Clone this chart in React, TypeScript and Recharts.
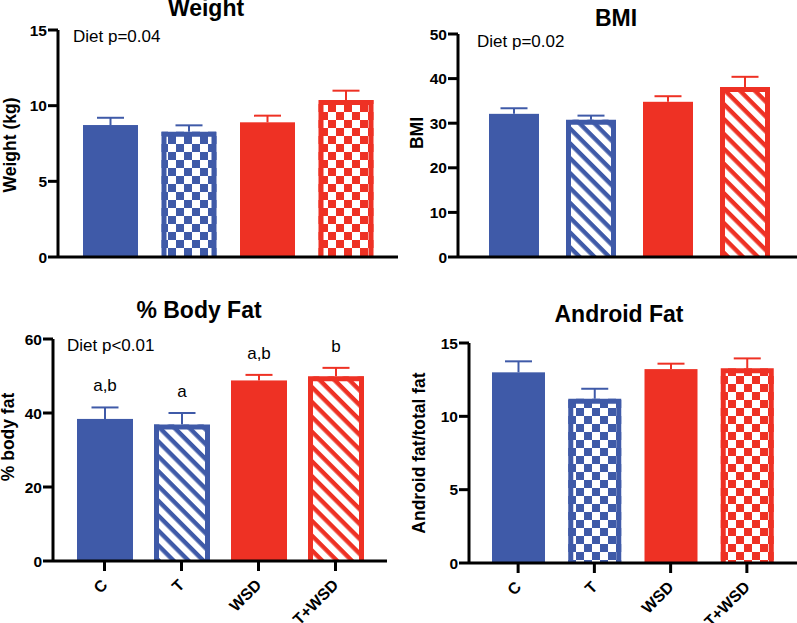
import React from 'react';
import { BarChart, Bar, XAxis, YAxis, LabelList } from 'recharts';

const FONT = '"Liberation Sans", Arial, Helvetica, sans-serif';
const BLUE = '#3F5AA8';
const RED = '#EE3124';

// ---- data ----
const GROUPS = ['C', 'T', 'WSD', 'T+WSD'];

const WEIGHT_MEAN = [8.72, 8.28, 8.9, 10.37];
const WEIGHT_SEM = [0.48, 0.42, 0.44, 0.62];
const WEIGHT_TICKS = [0, 5, 10, 15];

const BMI_MEAN = [32.1, 30.8, 34.8, 38.1];
const BMI_SEM = [1.25, 0.9, 1.25, 2.3];
const BMI_TICKS = [0, 10, 20, 30, 40, 50];

const FAT_MEAN = [38.4, 36.9, 48.8, 49.9];
const FAT_SEM = [3.1, 3.1, 1.5, 2.3];
const FAT_LETTERS = ['a,b', 'a', 'a,b', 'b'];
const FAT_TICKS = [0, 20, 40, 60];

const ANDROID_MEAN = [13.0, 11.2, 13.22, 13.27];
const ANDROID_SEM = [0.75, 0.68, 0.37, 0.68];
const ANDROID_TICKS = [0, 5, 10, 15];

const TITLES = ['Weight', 'BMI', '% Body Fat', 'Android Fat'];
const Y_LABELS = ['Weight (kg)', 'BMI', '% body fat', 'Android fat/total fat'];
const STATS = ['Diet p=0.04', 'Diet p=0.02', 'Diet p<0.01'];

// ---- styling ----
const COLORS = [BLUE, BLUE, RED, RED];

type Row = { group: string; mean: number; sem: number; letter: string };

function makeRows(mean: number[], sem: number[], letters?: string[]): Row[] {
  return GROUPS.map((g, i) => ({ group: g, mean: mean[i], sem: sem[i], letter: letters ? letters[i] : '' }));
}

const makeBarShape = (patterns: (string | null)[]) => (props: any) => {
  const { x, y, width, height, index } = props;
  const color = COLORS[index];
  const pid = patterns[index];
  if (!pid) {
    return <rect x={x} y={y} width={width} height={height} fill={color} />;
  }
  const sw = 5;
  const h = sw / 2;
  return (
    <g>
      <rect x={x} y={y} width={width} height={height} fill={`url(#${pid})`} />
      <path
        d={`M${x + h},${y + height} L${x + h},${y + h} L${x + width - h},${y + h} L${x + width - h},${y + height}`}
        fill="none"
        stroke={color}
        strokeWidth={sw}
      />
    </g>
  );
};

const errShape = (props: any) => {
  const { x, y, width, height, index } = props;
  const cx = x + width / 2;
  const color = COLORS[index];
  return (
    <g>
      <line x1={cx} x2={cx} y1={y + height} y2={y} stroke={color} strokeWidth={2} />
      <line x1={cx - 13.5} x2={cx + 13.5} y1={y} y2={y} stroke={color} strokeWidth={2} />
    </g>
  );
};

const RotTick = (props: any) => {
  const { x, y, payload } = props;
  const px = x + 4;
  const py = y + 13;
  return (
    <text
      x={px}
      y={py}
      transform={`rotate(-45 ${px} ${py})`}
      textAnchor="end"
      fontSize={16}
      fontWeight="bold"
      fontFamily={FONT}
      fill="#000"
    >
      {payload.value}
    </text>
  );
};

const letterContent = (props: any) => {
  const { x, y, width, value } = props;
  if (!value) return null;
  return (
    <text x={x + width / 2} y={y - 16} textAnchor="middle" fontSize={17} fontFamily={FONT} fill="#000">
      {value}
    </text>
  );
};

function Defs({ p }: { p: string }) {
  return (
    <defs>
      {[['blue', BLUE], ['red', RED]].map(([n, c]) => (
        <React.Fragment key={n}>
          <pattern id={`${p}-check-${n}`} patternUnits="userSpaceOnUse" width={16} height={16}>
            <rect width={16} height={16} fill="#fff" />
            <rect width={8} height={8} fill={c} />
            <rect x={8} y={8} width={8} height={8} fill={c} />
          </pattern>
          <pattern id={`${p}-stripe-${n}`} patternUnits="userSpaceOnUse" width={10.5} height={10.5} patternTransform="rotate(45)">
            <rect width={10.5} height={10.5} fill="#fff" />
            <rect width={10.5} height={4.4} fill={c} />
          </pattern>
        </React.Fragment>
      ))}
    </defs>
  );
}

type PanelProps = {
  id: string;
  left: number;
  top: number;
  width: number;
  height: number;
  marginTop: number;
  marginRight: number;
  yWidth: number;
  xHeight: number;
  padL: number;
  padR: number;
  barSize: number;
  ticks: number[];
  rows: Row[];
  kind: 'check' | 'stripe';
  labels: boolean;
  letters?: boolean;
};

function Panel(p: PanelProps) {
  const patterns = [null, `${p.id}-${p.kind}-blue`, null, `${p.id}-${p.kind}-red`];
  const axisStyle = { stroke: '#000', strokeWidth: 3 };
  return (
    <div style={{ position: 'absolute', left: p.left, top: p.top, width: p.width, height: p.height }}>
      <BarChart
        width={p.width}
        height={p.height}
        data={p.rows}
        margin={{ top: p.marginTop, right: p.marginRight, bottom: 0, left: 0 }}
        barSize={p.barSize}
      >
        <Defs p={p.id} />
        <XAxis
          dataKey="group"
          height={p.xHeight}
          padding={{ left: p.padL, right: p.padR }}
          axisLine={axisStyle}
          tickLine={axisStyle}
          tickSize={10}
          tick={p.labels ? <RotTick /> : false as any}
          tickFormatter={p.labels ? undefined : () => ''}
          interval={0}
        />
        <YAxis
          width={p.yWidth}
          domain={[p.ticks[0], p.ticks[p.ticks.length - 1]]}
          ticks={p.ticks}
          interval={0}
          axisLine={axisStyle}
          tickLine={axisStyle}
          tickSize={10}
          tickMargin={1}
          tick={{ fill: '#000', fontSize: 15.5, fontWeight: 'bold', fontFamily: FONT }}
        />
        <Bar dataKey="mean" stackId="s" isAnimationActive={false} shape={makeBarShape(patterns)} />
        <Bar dataKey="sem" stackId="s" isAnimationActive={false} shape={errShape}>
          {p.letters ? <LabelList dataKey="letter" content={letterContent} /> : null}
        </Bar>
      </BarChart>
    </div>
  );
}

export default function App() {
  const titleStyle = { fontSize: 23, fontWeight: 'bold' as const, fontFamily: FONT };
  const yLabStyle = { fontSize: 17.5, fontWeight: 'bold' as const, fontFamily: FONT };
  const statStyle = { fontSize: 17, fontFamily: FONT };
  return (
    <div style={{ position: 'absolute', left: 0, top: 0, width: 797, height: 623, background: '#fff', overflow: 'hidden' }}>
      <Panel
        id="w" left={0} top={0} width={400} height={280}
        marginTop={30} marginRight={2} yWidth={58} xHeight={23}
        padL={13} padR={13} barSize={55} ticks={WEIGHT_TICKS}
        rows={makeRows(WEIGHT_MEAN, WEIGHT_SEM)} kind="check" labels={false}
      />
      <Panel
        id="b" left={400} top={0} width={397} height={280}
        marginTop={34} marginRight={0} yWidth={58} xHeight={23}
        padL={17} padR={14} barSize={50} ticks={BMI_TICKS}
        rows={makeRows(BMI_MEAN, BMI_SEM)} kind="stripe" labels={false}
      />
      <Panel
        id="f" left={0} top={280} width={400} height={343}
        marginTop={59} marginRight={13} yWidth={53} xHeight={62}
        padL={13} padR={13} barSize={56} ticks={FAT_TICKS}
        rows={makeRows(FAT_MEAN, FAT_SEM, FAT_LETTERS)} kind="stripe" labels={true} letters={true}
      />
      <Panel
        id="a" left={400} top={280} width={397} height={343}
        marginTop={63} marginRight={0} yWidth={69} xHeight={60}
        padL={11} padR={12} barSize={53} ticks={ANDROID_TICKS}
        rows={makeRows(ANDROID_MEAN, ANDROID_SEM)} kind="check" labels={true}
      />
      <svg width={797} height={623} style={{ position: 'absolute', left: 0, top: 0, pointerEvents: 'none' }}>
        <text x={206} y={16} textAnchor="middle" {...titleStyle}>{TITLES[0]}</text>
        <text x={616} y={25.5} textAnchor="middle" {...titleStyle}>{TITLES[1]}</text>
        <text x={199} y={318} textAnchor="middle" {...titleStyle}>{TITLES[2]}</text>
        <text x={619} y={321.5} textAnchor="middle" {...titleStyle}>{TITLES[3]}</text>

        <text x={73} y={41.5} {...statStyle}>{STATS[0]}</text>
        <text x={477} y={46.5} {...statStyle}>{STATS[1]}</text>
        <text x={67} y={351} {...statStyle}>{STATS[2]}</text>

        <text x={10} y={145} transform="rotate(-90 10 145)" textAnchor="middle" dominantBaseline="central" {...yLabStyle}>{Y_LABELS[0]}</text>
        <text x={417} y={133} transform="rotate(-90 417 133)" textAnchor="middle" dominantBaseline="central" {...yLabStyle}>{Y_LABELS[1]}</text>
        <text x={8} y={437} transform="rotate(-90 8 437)" textAnchor="middle" dominantBaseline="central" {...yLabStyle}>{Y_LABELS[2]}</text>
        <text x={418.5} y={453} transform="rotate(-90 418.5 453)" textAnchor="middle" dominantBaseline="central" {...yLabStyle}>{Y_LABELS[3]}</text>
      </svg>
    </div>
  );
}
